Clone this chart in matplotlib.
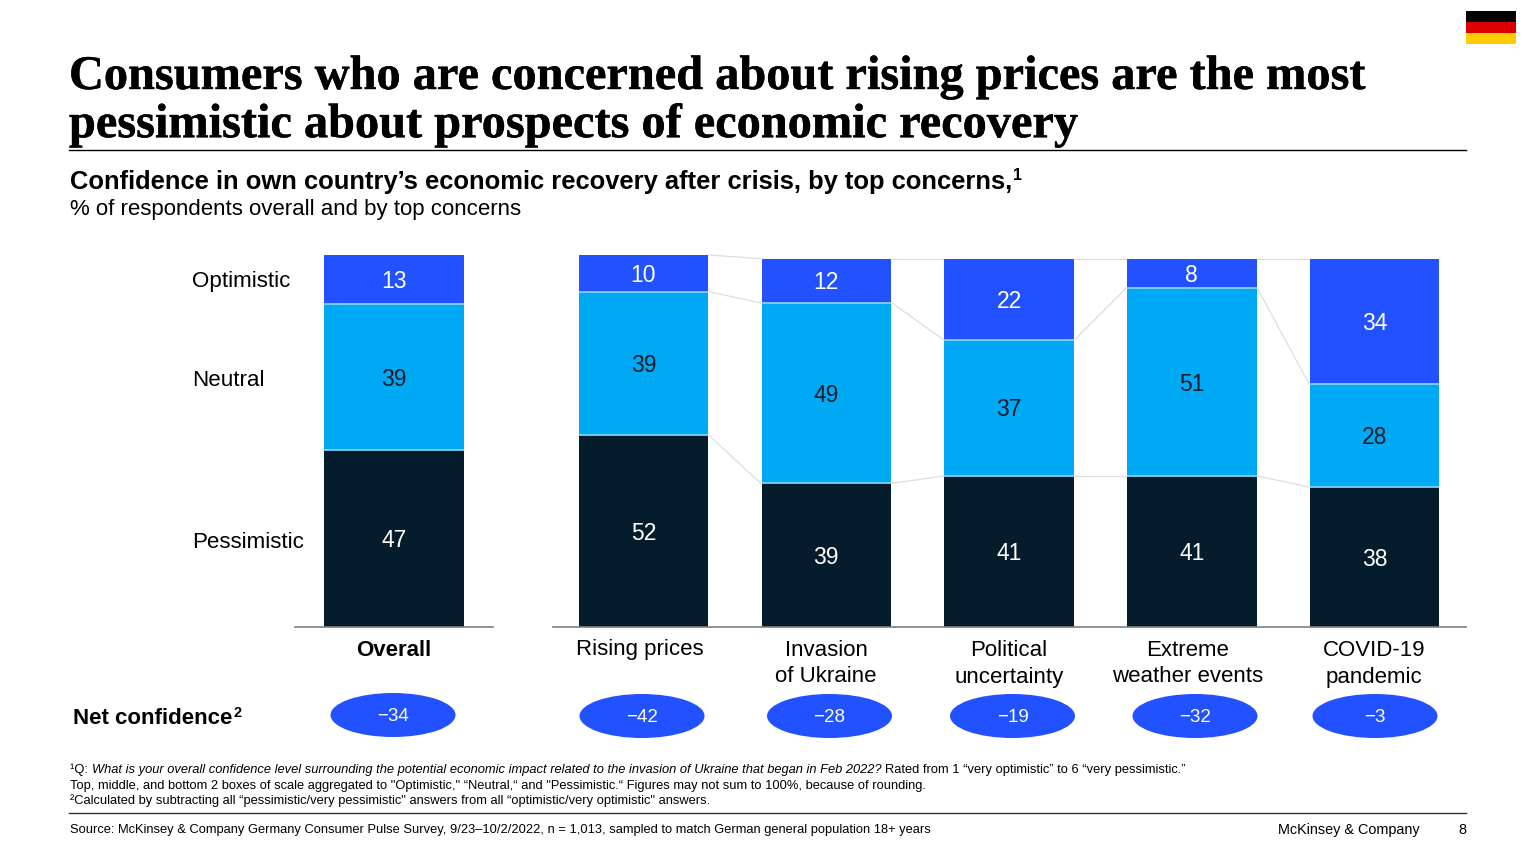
import matplotlib
matplotlib.use("Agg")
import matplotlib.pyplot as plt
import matplotlib.patheffects as pe
from matplotlib.patches import Ellipse, Rectangle

OPTIMISTIC = [10, 12, 22, 8, 34]
NEUTRAL = [39, 49, 37, 51, 28]
PESSIMISTIC = [52, 39, 41, 41, 38]
CONCERNS = ["Rising prices", "Invasion\nof Ukraine", "Political\nuncertainty",
            "Extreme\nweather events", "COVID-19\npandemic"]
NET_CONCERNS = ["−42", "−28", "−19", "−32", "−3"]

OVERALL_OPTIMISTIC = [13]
OVERALL_NEUTRAL = [39]
OVERALL_PESSIMISTIC = [47]
OVERALL_NET = "−34"

LEVELS = ["Optimistic", "Neutral", "Pessimistic"]

BLUE = "#2251FF"
CYAN = "#00A9F4"
NAVY = "#051C2C"
SANS = "Liberation Sans"
SERIF = "Liberation Serif"
W, H = 1536, 864

fig = plt.figure(figsize=(W / 100, H / 100), dpi=100)
renderer = fig.canvas.get_renderer()

# page layer in pixels for text, rules and pills
page = fig.add_axes([0, 0, 1, 1])
page.set_xlim(0, W)
page.set_ylim(H, 0)
page.axis("off")


def chart_axes(left, right, top=255, bottom=627):
    ax = fig.add_axes([left / W, 1 - bottom / H, (right - left) / W, (bottom - top) / H])
    ax.patch.set_alpha(0)
    for side in ["top", "left", "right"]:
        ax.spines[side].set_visible(False)
    ax.spines["bottom"].set_color("#7f7f7f")
    ax.spines["bottom"].set_linewidth(1.2)
    ax.set_yticks([])
    ax.tick_params(axis="x", length=0, labelbottom=False)
    return ax


def draw_stack(ax, positions, pessimistic, neutral, optimistic, width):
    base_neutral = pessimistic
    base_optimistic = [p + n for p, n in zip(pessimistic, neutral)]
    tops = [b + o for b, o in zip(base_optimistic, optimistic)]
    low = ax.bar(positions, pessimistic, width, color=NAVY)
    mid = ax.bar(positions, neutral, width, bottom=base_neutral, color=CYAN)
    high = ax.bar(positions, optimistic, width, bottom=base_optimistic, color=BLUE)
    for bars, colour in [(low, "white"), (mid, NAVY), (high, "white")]:
        labels = ax.bar_label(bars, label_type="center", color=colour, fontsize=16.5, family=SANS)
        for label in labels:
            label.xyann = (0, -1.5)
    # thin pale separators between the segments
    for level in [base_neutral, base_optimistic]:
        for x, y in zip(positions, level):
            ax.plot([x - width / 2, x + width / 2], [y, y], color="#8FD6F8", lw=1.2,
                    solid_capstyle="butt", zorder=3)
    # connectors between neighbouring bars
    for level in [base_neutral, base_optimistic, tops]:
        for i in range(len(positions) - 1):
            ax.plot([positions[i] + width / 2 + 0.005, positions[i + 1] - width / 2 - 0.005],
                    [level[i], level[i + 1]], color="#DEDEDE", lw=0.9, zorder=1, clip_on=False)


overall_ax = chart_axes(295, 493)
overall_ax.set_xlim(-0.5, 0.5)
overall_ax.set_ylim(0, 99)
draw_stack(overall_ax, [0], OVERALL_PESSIMISTIC, OVERALL_NEUTRAL, OVERALL_OPTIMISTIC, 0.712)

main_ax = chart_axes(553, 1466)
main_ax.set_xlim(-0.495, 4.5)
main_ax.set_ylim(0, 101)
positions = list(range(len(CONCERNS)))
draw_stack(main_ax, positions, PESSIMISTIC, NEUTRAL, OPTIMISTIC, 0.708)


def put(x, y, s, size, weight="normal", style="normal", family=SANS, ha="left", colour="black"):
    return page.text(x, y, s, fontsize=size, fontweight=weight, fontstyle=style, family=family,
                     ha=ha, va="center", color=colour)


def right_of(text):
    return text.get_window_extent(renderer).x1


# title, thickened a little because the serif is lighter than the original
for y, line in [(77, "Consumers who are concerned about rising prices are the most"),
                (125, "pessimistic about prospects of economic recovery")]:
    title = put(69, y, line, 34.8, "bold", family=SERIF)
    title.set_path_effects([pe.withStroke(linewidth=0.3, foreground="black")])
page.plot([69, 1466], [149.5, 149.5], color="black", lw=1)

# flag
for y0, colour in [(11, "black"), (22, "#DD0000"), (33, "#FFCE00")]:
    page.add_patch(Rectangle((1466, y0), 50, 11.3, color=colour, lw=0))

# subtitle
sub = put(70, 182, "Confidence in own country’s economic recovery after crisis, by top concerns,", 18.4, "bold")
put(right_of(sub) + 1, 176, "1", 11.5, "bold")
put(70, 210, "% of respondents overall and by top concerns", 16)

# row labels
for label, y in zip(LEVELS, [281, 380, 542]):
    put(192, y, label, 16.1)

# category labels
put(394, 650, "Overall", 16, "bold", ha="center")
for label, x in zip(CONCERNS, [640, 826, 1009, 1188, 1374]):
    first, *rest = label.split("\n")
    put(x, 650, first, 16, ha="center")
    if rest:
        put(x, 677, rest[0], 16, ha="center")

# net confidence row
net = put(73, 718, "Net confidence", 16, "bold")
put(right_of(net) + 1, 713, "2", 10.5, "bold")
for value, x, y in zip([OVERALL_NET] + NET_CONCERNS,
                       [393, 642, 829.5, 1012.5, 1195, 1375],
                       [715, 716, 716, 716, 716, 716]):
    page.add_patch(Ellipse((x, y), 125, 44, color=BLUE, lw=0))
    put(x, y + 1.5, value, 13.5, ha="center", colour="white")

# footnotes
foot = 9.27
first = put(70, 769.5, "¹Q: ", foot)
ital = put(right_of(first) + 1, 769.5, "What is your overall confidence level surrounding the potential economic impact "
           "related to the invasion of Ukraine that began in Feb 2022?", foot, style="italic")
put(right_of(ital) + 3, 769.5, "Rated from 1 “very optimistic” to 6 “very pessimistic.”", foot)
put(70, 785.5, "Top, middle, and bottom 2 boxes of scale aggregated to \"Optimistic,\" “Neutral,“ and \"Pessimistic.“ "
    "Figures may not sum to 100%, because of rounding.", foot)
put(70, 800.5, "²Calculated by subtracting all “pessimistic/very pessimistic\" answers from all “optimistic/very optimistic\" answers.", foot)
page.plot([69, 1466], [813, 813], color="#333333", lw=1)

put(70, 829.5, "Source: McKinsey & Company Germany Consumer Pulse Survey, 9/23–10/2/2022, n = 1,013, "
    "sampled to match German general population 18+ years", foot)
put(1420, 830, "McKinsey & Company", 10.35, ha="right")
put(1466, 830, "8", 10.35, ha="right")

fig.savefig("out.png", dpi=100)
